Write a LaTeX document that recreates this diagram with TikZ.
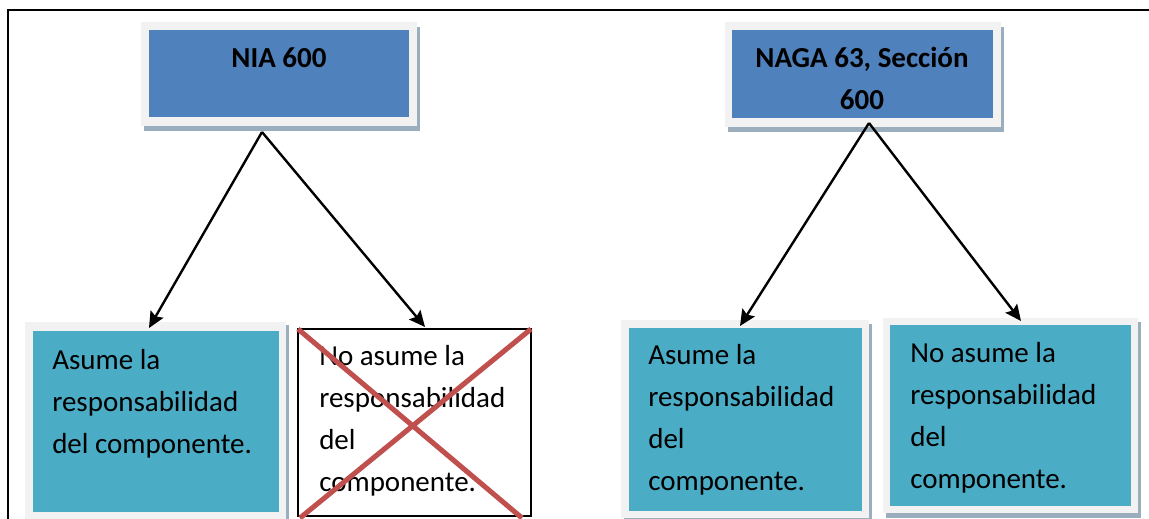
\documentclass[tikz,border=0pt]{standalone}
\usepackage{fontspec}
\setmainfont{Carlito}
\usetikzlibrary{arrows.meta,fit}
\definecolor{hdrblue}{HTML}{4F81BD}
\definecolor{tealbox}{HTML}{4BACC6}
\definecolor{framegray}{HTML}{F2F2F2}
\definecolor{shadowgray}{HTML}{9BAEBE}
\definecolor{crossred}{HTML}{C0504D}
\tikzset{
  boxbase/.style={rectangle, inner sep=0pt, outer sep=0pt, draw=none},
  shadowbox/.style={boxbase, fill=shadowgray},
  framebox/.style={boxbase, fill=framegray},
  hdrbox/.style={boxbase, fill=hdrblue},
  tealrect/.style={boxbase, fill=tealbox},
  crossbox/.style={boxbase, fill=white, draw=black, line width=1.6pt},
  hdrtext/.style={font=\fontsize{21.75pt}{31.5pt}\selectfont\bfseries, align=center, inner sep=0pt, anchor=base},
  bodytext/.style={font=\fontsize{21.75pt}{31.5pt}\selectfont, align=left, inner sep=0pt, anchor=base west},
  arr/.style={line width=1.8pt, -{Stealth[length=12pt,width=11pt,inset=2pt]}},
  crossline/.style={crossred, line width=3.8pt},
}
\begin{document}
\begin{tikzpicture}[x=0.75pt,y=-0.75pt]
\useasboundingbox (0,0) rectangle (1149,518);
% outer frame
\draw[line width=2pt] (8,520) -- (8,10) -- (1149,10);

% ---- NIA 600 header
\node[shadowbox, fit={(144,27) (420,131)}] (niashadow) {};
\node[framebox, fit={(141,22) (417,126)}] (niaframe) {};
\node[hdrbox, fit={(149,30) (409,117)}] (nia) {};
\node[hdrtext] (niat) at (279,67) {NIA 600};

% ---- NAGA header
\node[shadowbox, fit={(728,27) (1004,132)}] (nagashadow) {};
\node[framebox, fit={(725,22) (1001,127)}] (nagaframe) {};
\node[hdrbox, fit={(732,30) (993,118)}] (naga) {};
\node[hdrtext] (nagat) at (862,109) {NAGA 63, Sección\\600};

% ---- left-left box
\node[shadowbox, fit={(28,325) (289,520)}] (l1shadow) {};
\node[framebox, fit={(25,322) (286,520)}] (l1frame) {};
\node[tealrect, fit={(33,331) (279,512)}] (l1) {};
\node[bodytext] (l1t) at (52,453) {Asume la\\responsabilidad\\del componente.};

% ---- crossed box
\node[crossbox, fit={(298,329) (531,516)}] (l2) {};
\node[bodytext] (l2t) at (319,491) {No asume la\\responsabilidad\\del\\componente.};
\draw[crossline] (l2.north west) -- (522,518);
\draw[crossline] (l2.north east) -- (300,518);

% ---- right-left box
\node[shadowbox, fit={(624,324) (872,520)}] (r1shadow) {};
\node[framebox, fit={(621,320) (869,518)}] (r1frame) {};
\node[tealrect, fit={(629,328) (862,511)}] (r1) {};
\node[bodytext] (r1t) at (648,490) {Asume la\\responsabilidad\\del\\componente.};

% ---- right-right box
\node[shadowbox, fit={(886,322) (1141,518)}] (r2shadow) {};
\node[framebox, fit={(883,318) (1138,513)}] (r2frame) {};
\node[tealrect, fit={(890,325) (1131,506)}] (r2) {};
\node[bodytext] (r2t) at (910,488) {No asume la\\responsabilidad\\del\\componente.};

% ---- connectors
\coordinate (niaapex) at (262,132);
\coordinate (l1tip) at (149,328);
\coordinate (l2tip) at (425,327);
\coordinate (nagaapex) at (869,123);
\coordinate (r1tip) at (740,326);
\coordinate (r2tip) at (1021,321);
\draw[arr] (niaapex) -- (l1tip);
\draw[arr] (niaapex) -- (l2tip);
\draw[arr] (nagaapex) -- (r1tip);
\draw[arr] (nagaapex) -- (r2tip);
\end{tikzpicture}
\end{document}
